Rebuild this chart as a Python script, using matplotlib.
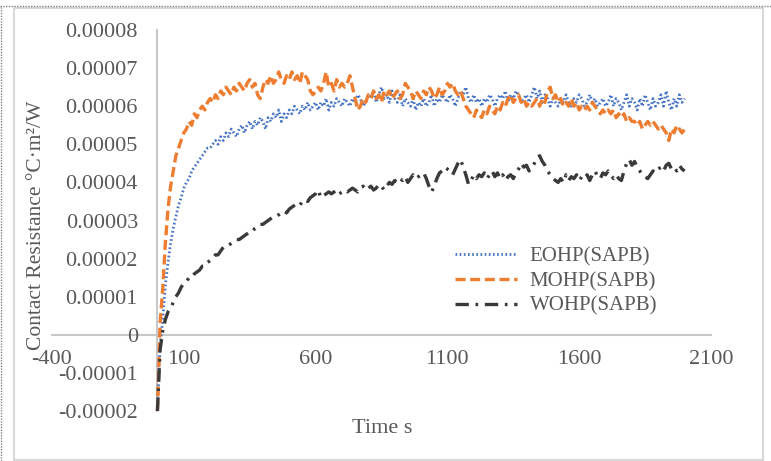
import matplotlib.pyplot as plt
import matplotlib.patches as mpatches
import matplotlib.lines as mlines
from matplotlib.ticker import FuncFormatter
import numpy as np

# time grid (s): start-up points, then 10 s sampling
time_start = [0, 5]
time_main = list(range(10, 2001, 10))
time = np.array(time_start + time_main)

# contact resistance in units of 1e-5 degC.m2/W
eohp = [-2.0, -1.1,
    -0.3, 0.4, 1.3, 1.9, 2.4, 2.8, 3.1, 3.4, 3.6, 3.85,
    4.0, 4.1, 4.3, 4.4, 4.5, 4.6, 4.7, 4.8, 4.9, 4.9,
    5.0, 5.1, 5.0, 5.2, 5.1, 5.3, 5.2, 5.4, 5.3, 5.2,
    5.4, 5.5, 5.3, 5.5, 5.6, 5.4, 5.6, 5.5, 5.7, 5.6,
    5.4, 5.7, 5.6, 5.8, 5.7, 5.9, 5.6, 5.8, 5.7, 5.9,
    5.8, 6.0, 5.9, 5.8, 6.0, 5.9, 6.1, 5.9, 6.0, 6.1,
    5.9, 6.1, 6.0, 6.2, 5.9, 6.1, 6.0, 6.2, 6.1, 6.0,
    6.2, 6.1, 6.0, 6.2, 6.1, 6.3, 6.2, 6.0, 6.1, 6.3,
    6.2, 6.4, 6.1, 6.3, 6.5, 6.2, 6.3, 6.1, 6.4, 6.2,
    6.1, 6.3, 6.0, 6.2, 6.1, 6.0, 6.2, 5.9, 6.1, 6.0,
    6.2, 6.0, 6.1, 6.3, 6.0, 6.2, 6.1, 6.3, 6.2, 6.1,
    6.3, 6.2, 6.0, 6.2, 6.4, 6.3, 6.5, 6.2, 6.1, 6.3,
    6.1, 6.2, 6.0, 6.2, 6.1, 6.3, 6.2, 6.0, 6.2, 6.3,
    6.2, 6.4, 6.1, 6.3, 6.2, 6.4, 6.3, 6.1, 6.2, 6.3,
    6.1, 6.3, 6.5, 6.2, 6.4, 6.1, 6.3, 6.2, 6.0, 6.2,
    6.1, 6.0, 6.2, 6.1, 6.3, 6.1, 6.0, 6.2, 6.1, 6.3,
    6.2, 6.0, 6.1, 6.3, 6.1, 6.2, 6.0, 6.1, 6.2, 6.0,
    6.1, 6.3, 6.0, 6.2, 6.1, 5.9, 6.1, 6.3, 6.0, 6.2,
    6.1, 5.9, 6.2, 6.0, 6.3, 6.1, 5.9, 6.2, 6.0, 6.1,
    6.3, 6.0, 6.4, 6.1, 5.9, 6.2, 6.0, 6.3, 6.1, 6.2]

mohp = [-2.0, -0.9,
    0.3, 1.2, 2.4, 3.3, 3.9, 4.3, 4.7, 4.9, 5.1, 5.3,
    5.4, 5.6, 5.5, 5.8, 5.7, 5.9, 6.0, 5.9, 6.1, 6.2,
    6.1, 6.3, 6.2, 6.4, 6.3, 6.5, 6.4, 6.3, 6.5, 6.4,
    6.6, 6.5, 6.4, 6.6, 6.7, 6.5, 6.6, 6.3, 6.2, 6.5,
    6.7, 6.6, 6.8, 6.6, 6.7, 6.9, 6.7, 6.6, 6.8, 6.7,
    6.9, 6.7, 6.8, 6.6, 6.9, 6.8, 6.7, 6.4, 6.3, 6.4,
    6.5, 6.4, 6.6, 6.9, 6.5, 6.6, 6.4, 6.7, 6.5, 6.6,
    6.5, 6.6, 6.8, 6.5, 6.2, 5.9, 6.0, 6.2, 6.1, 6.3,
    6.2, 6.4, 6.2, 6.3, 6.1, 6.4, 6.3, 6.4, 6.2, 6.3,
    6.4, 6.2, 6.3, 6.6, 6.5, 6.4, 6.2, 6.4, 6.3, 6.2,
    6.4, 6.3, 6.5, 6.4, 6.2, 6.3, 6.5, 6.3, 6.4, 6.6,
    6.5, 6.6, 6.4, 6.3, 6.4, 6.2, 6.0, 5.9, 5.8, 5.7,
    5.9, 5.8, 5.7, 5.9, 5.8, 6.0, 5.9, 5.8, 6.0, 5.9,
    6.1, 6.0, 6.2, 6.3, 6.1, 6.2, 6.3, 6.1, 6.2, 6.0,
    6.1, 6.0, 6.1, 6.2, 6.0, 6.2, 6.1, 6.4, 6.5, 6.2,
    6.3, 6.1, 6.2, 6.0, 6.1, 6.0, 6.2, 6.0, 6.1, 5.9,
    6.0, 5.9, 6.0, 5.9, 6.1, 6.0, 5.9, 5.8, 5.9, 5.8,
    5.9, 5.8, 5.9, 5.7, 5.8, 5.7, 5.8, 5.6, 5.7, 5.6,
    5.6, 5.5, 5.6, 5.4, 5.5, 5.6, 5.5, 5.6, 5.5, 5.4,
    5.5, 5.4, 5.3, 5.1, 5.4, 5.3, 5.5, 5.4, 5.3, 5.4]

wohp = [-2.0, -1.2,
    -0.4, 0.1, 0.4, 0.6, 0.7, 0.85, 1.0, 1.1, 1.25, 1.35,
    1.4, 1.5, 1.5, 1.6, 1.65, 1.7, 1.8, 1.8, 1.9, 1.95,
    2.0, 2.1, 2.1, 2.2, 2.3, 2.3, 2.35, 2.4, 2.45, 2.5,
    2.5, 2.55, 2.6, 2.65, 2.7, 2.7, 2.8, 2.85, 2.9, 2.9,
    2.95, 3.0, 3.05, 3.1, 3.1, 3.15, 3.2, 3.25, 3.2, 3.3,
    3.35, 3.4, 3.45, 3.4, 3.5, 3.55, 3.5, 3.6, 3.65, 3.7,
    3.8, 3.6, 3.65, 3.7, 3.75, 3.7, 3.75, 3.8, 3.7, 3.75,
    3.8, 3.75, 3.8, 3.85, 3.8, 3.75, 3.85, 3.9, 3.8, 3.85,
    3.9, 3.8, 3.85, 3.95, 3.9, 3.8, 3.9, 4.0, 3.95, 4.05,
    4.0, 4.1, 4.05, 4.15, 4.0, 4.1, 4.2, 4.1, 4.15, 4.2,
    4.25, 4.1, 3.9, 3.75, 3.9, 4.1, 4.25, 4.3, 4.4, 4.35,
    4.3, 4.2, 4.35, 4.5, 4.6, 4.4, 4.2, 3.95, 4.05, 4.2,
    4.1, 4.2, 4.15, 4.25, 4.1, 4.2, 4.3, 4.15, 4.25, 4.1,
    4.2, 4.05, 4.15, 4.2, 4.1, 4.25, 4.35, 4.5, 4.4, 4.45,
    4.3, 4.4, 4.5, 4.65, 4.7, 4.55, 4.45, 4.3, 4.2, 4.1,
    4.05, 4.0, 4.1, 4.0, 4.2, 4.05, 4.15, 4.1, 4.2, 4.05,
    4.15, 4.1, 4.2, 4.05, 4.2, 4.3, 4.15, 4.1, 4.25, 4.2,
    4.3, 4.2, 4.1, 4.2, 4.1, 4.05, 4.3, 4.5, 4.6, 4.45,
    4.55, 4.4, 4.3, 4.2, 4.15, 4.1, 4.2, 4.3, 4.25, 4.35,
    4.4, 4.3, 4.45, 4.5, 4.35, 4.4, 4.3, 4.45, 4.35, 4.3]

labels = ["EOHP(SAPB)", "MOHP(SAPB)", "WOHP(SAPB)"]
x_ticks = [-400, 100, 600, 1100, 1600, 2100]
y_ticks = [-0.00002, -0.00001, 0, 0.00001, 0.00002, 0.00003,
           0.00004, 0.00005, 0.00006, 0.00007, 0.00008]

plt.rcParams['font.family'] = ['Liberation Serif', 'DejaVu Serif']
plt.rcParams['axes.unicode_minus'] = False
txt = '#595959'
axis_col = '#c8c8c8'

fig = plt.figure(figsize=(7.71, 4.61), dpi=100)
ax = fig.add_axes([52/771, 1 - 411/461, (711 - 52)/771, (411 - 30)/461])

scale = 1e-5
ax.plot(time, np.array(eohp) * scale, color='#4472C4', lw=2.0,
        linestyle=(0, (0.6, 0.9)), label=labels[0], zorder=3)
ax.plot(time, np.array(mohp) * scale, color='#ED7D31', lw=2.4,
        linestyle=(0, (3, 1.4)), label=labels[1], zorder=3)
ax.plot(time, np.array(wohp) * scale, color='#3a3a3a', lw=2.4,
        linestyle=(0, (4, 2, 0.8, 2)), label=labels[2], zorder=3)

ax.set_xlim(-400, 2100)
ax.set_ylim(-0.00002, 0.00008)
ax.set_xticks(x_ticks)
ax.set_yticks(y_ticks)
ax.xaxis.set_major_formatter(FuncFormatter(lambda v, p: f"{v:.0f}"))
ax.yaxis.set_major_formatter(FuncFormatter(
    lambda v, p: "0" if abs(v) < 1e-12 else f"{v:.5f}"))

for s in ['top', 'right']:
    ax.spines[s].set_visible(False)
ax.spines['bottom'].set_position(('data', 0))
ax.spines['left'].set_position(('data', 0))
for s in ['bottom', 'left']:
    ax.spines[s].set_color(axis_col)
    ax.spines[s].set_linewidth(1.5)
    ax.spines[s].set_zorder(1)

ax.tick_params(axis='x', length=0, pad=11, labelsize=16, labelcolor=txt)
ax.tick_params(axis='y', length=0, pad=14, labelsize=16, labelcolor=txt)

fig.text(382/771, 1 - 428/461, "Time s", ha='center', va='center',
         fontsize=16, color=txt)
fig.text(37/771, 1 - 225/461, "Contact Resistance °C·m²/W", ha='center',
         va='center', rotation=90, fontsize=15.5, color=txt)

ax.legend(loc='upper left', bbox_to_anchor=(436/771, 1 - 228/461),
          bbox_transform=fig.transFigure, frameon=False, fontsize=15,
          handlelength=3.0, handletextpad=0.6, labelspacing=0.25,
          labelcolor=txt)

# chart border
fig.patches.append(mpatches.Rectangle((14/771, 1/461), (763 - 14)/771, (453 - 1)/461,
                                      transform=fig.transFigure, fill=False,
                                      edgecolor='#d9d9d9', lw=1.5))
fig.lines.append(mlines.Line2D([0, 1], [1 - 6.5/461, 1 - 6.5/461],
                               transform=fig.transFigure, color='#808080',
                               lw=1, linestyle=(0, (1, 1))))
fig.lines.append(mlines.Line2D([1/771, 1/771], [0, 1 - 6.5/461],
                               transform=fig.transFigure, color='#808080',
                               lw=1, linestyle=(0, (1, 1))))

fig.savefig('out.png', dpi=100)
